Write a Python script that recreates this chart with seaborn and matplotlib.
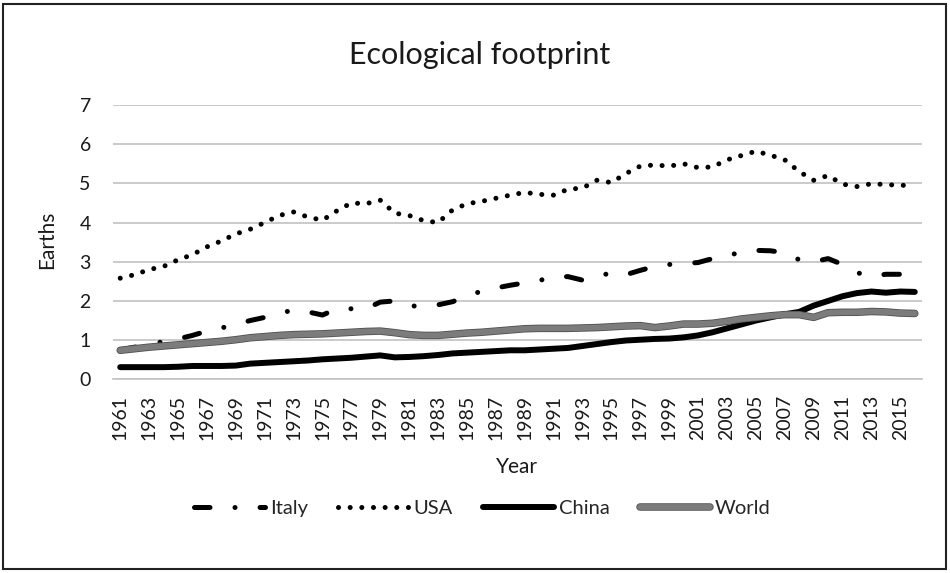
import pandas as pd
import seaborn as sns
import matplotlib.pyplot as plt
import matplotlib.patheffects as pe
from matplotlib.patches import Rectangle

# ecological footprint (earths)
years = list(range(1961, 2017))
italy = [0.75, 0.82, 0.90, 0.96, 1.03, 1.12, 1.23, 1.31, 1.40, 1.50,
         1.58, 1.68, 1.77, 1.72, 1.64, 1.80, 1.80, 1.80, 1.97, 2.00,
         1.87, 1.87, 1.90, 1.98, 2.12, 2.25, 2.33, 2.40, 2.46, 2.52,
         2.62, 2.62, 2.53, 2.62, 2.72, 2.67, 2.78, 2.88, 2.93, 2.95,
         2.98, 3.08, 3.15, 3.25, 3.29, 3.28, 3.23, 3.05, 3.00, 3.08,
         2.93, 2.72, 2.63, 2.68, 2.68, 2.62]
usa = [2.58, 2.67, 2.80, 2.88, 3.05, 3.18, 3.38, 3.53, 3.71, 3.83,
       4.00, 4.18, 4.27, 4.14, 4.06, 4.30, 4.50, 4.48, 4.57, 4.24,
       4.18, 4.05, 4.00, 4.32, 4.48, 4.54, 4.62, 4.70, 4.77, 4.72,
       4.70, 4.85, 4.88, 5.08, 5.02, 5.25, 5.44, 5.47, 5.44, 5.50,
       5.40, 5.42, 5.60, 5.71, 5.82, 5.72, 5.60, 5.30, 5.08, 5.20,
       4.98, 4.92, 4.99, 4.97, 4.95, 4.95]
china = [0.31, 0.31, 0.31, 0.31, 0.32, 0.34, 0.34, 0.34, 0.35, 0.40,
         0.42, 0.44, 0.46, 0.48, 0.51, 0.53, 0.55, 0.58, 0.61, 0.56,
         0.57, 0.59, 0.62, 0.66, 0.68, 0.70, 0.72, 0.74, 0.74, 0.76,
         0.78, 0.80, 0.85, 0.90, 0.95, 0.99, 1.01, 1.03, 1.04, 1.07,
         1.12, 1.20, 1.30, 1.40, 1.50, 1.58, 1.66, 1.72, 1.88, 2.00,
         2.12, 2.20, 2.24, 2.21, 2.24, 2.23]
world = [0.74, 0.78, 0.82, 0.85, 0.88, 0.91, 0.94, 0.97, 1.01, 1.06,
         1.09, 1.12, 1.14, 1.15, 1.16, 1.18, 1.20, 1.22, 1.23, 1.19,
         1.14, 1.12, 1.12, 1.15, 1.18, 1.20, 1.23, 1.26, 1.29, 1.30,
         1.30, 1.30, 1.31, 1.32, 1.34, 1.36, 1.37, 1.32, 1.36, 1.41,
         1.41, 1.43, 1.48, 1.54, 1.58, 1.62, 1.65, 1.65, 1.58, 1.70,
         1.71, 1.71, 1.73, 1.72, 1.69, 1.68]

series = ['Italy', 'USA', 'China', 'World']
df = pd.DataFrame({'Year': years, 'Italy': italy, 'USA': usa,
                   'China': china, 'World': world})

sns.set_style('white')
plt.rcParams['font.family'] = ['Lato', 'DejaVu Sans']

fig = plt.figure(figsize=(9.5, 5.73), dpi=100)
ax = fig.add_axes([113 / 950, 1 - 379.3 / 573, (922 - 113) / 950, (379.3 - 105) / 573])

# line look per series (excel style, grey scale)
looks = {
    'Italy': dict(color='black', lw=3.6, dashes=(3.1, 5, 0.01, 5)),
    'USA': dict(color='black', lw=3.6, dashes=(0.01, 2.32)),
    'China': dict(color='black', lw=4.3, dashes=None),
    'World': dict(color='#7c7c7c', lw=4.2, dashes=None),
}

for name in series:
    lk = looks[name]
    sns.lineplot(data=df, x='Year', y=name, ax=ax, color=lk['color'],
                 lw=lk['lw'], label=name)
    line = ax.lines[-1]
    if lk['dashes']:
        line.set_dashes(lk['dashes'])
        line.set_dash_capstyle('round')
    else:
        line.set_solid_capstyle('round')
    if name == 'World':
        line.set_path_effects([pe.Stroke(linewidth=5.4, foreground='#505050'), pe.Normal()])

ax.set_xlim(1960.5, 2016.5)
ax.set_ylim(0, 7)
ax.set_yticks(range(0, 8))
ax.set_xticks(years[::2])
ax.set_xticklabels([str(y) for y in years[::2]], rotation=90)
ax.yaxis.grid(True, color='#c6c6c6', lw=1.3)
ax.xaxis.grid(False)
for s in ['left', 'right', 'top']:
    ax.spines[s].set_visible(False)
ax.spines['bottom'].set_color('#c6c6c6')
ax.spines['bottom'].set_linewidth(1.3)
ax.tick_params(axis='both', length=0, labelsize=14, colors='#1a1a1a')
ax.tick_params(axis='y', pad=16)
ax.tick_params(axis='x', pad=11)
ax.set_xlabel('')
ax.set_ylabel('')

ax.get_legend().remove()
handles = ax.get_lines()[:4]
fig.legend(handles, series, loc='center', bbox_to_anchor=(0.508, 0.113), ncol=4,
           frameon=False, fontsize=14.5, handlelength=3.5, handletextpad=0.25,
           columnspacing=1.5)

fig.text(480 / 950, 1 - 55 / 573, 'Ecological footprint', ha='center', va='center',
         fontsize=22, color='#1a1a1a')
fig.text(517 / 950, 1 - 467 / 573, 'Year', ha='center', va='center',
         fontsize=15, color='#1a1a1a')
fig.text(47 / 950, 1 - 240 / 573, 'Earths', ha='center', va='center', rotation=90,
         fontsize=15, color='#1a1a1a')

# chart border
fig.patches.append(Rectangle((3 / 950, 4 / 573), 943 / 950, 565 / 573, transform=fig.transFigure,
                             fill=False, edgecolor='#222222', lw=1.5))

plt.savefig('out.png', dpi=100)
